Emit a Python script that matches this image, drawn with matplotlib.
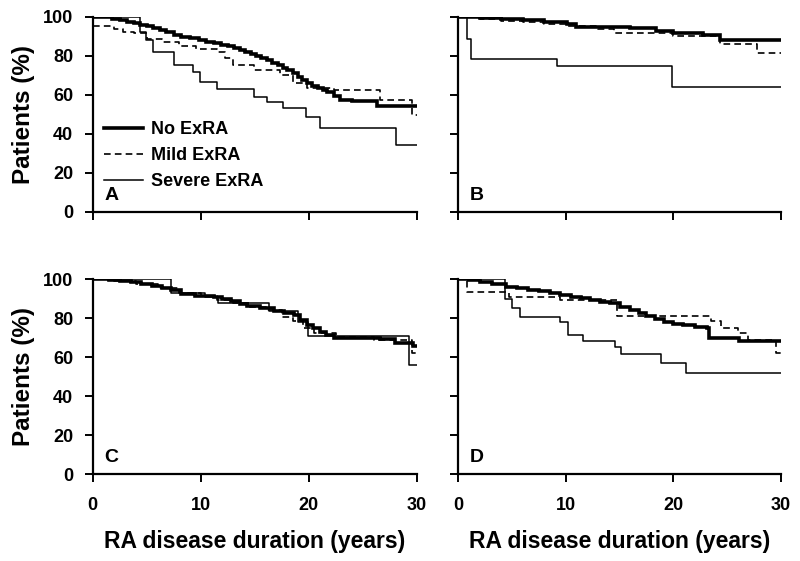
import matplotlib
matplotlib.use("Agg")
import matplotlib.pyplot as plt

plt.rcParams['font.family'] = ['Liberation Sans', 'DejaVu Sans']
plt.rcParams['font.weight'] = 'bold'

# ---- Data (years, % patients) ----
# Panel A
A_no_x   = [0, 1.0, 1.8, 2.5, 3.2, 3.8, 4.4, 5.0, 5.6, 6.2, 6.8, 7.5, 8.2, 9.0, 9.8, 10.5, 11.2, 11.9, 12.5, 13.1, 13.6, 14.1, 14.6, 15.1, 15.6, 16.1, 16.6, 17.1, 17.6, 18.0, 18.5, 19.0, 19.4, 19.8, 20.3, 20.8, 21.3, 21.7, 22.3, 22.9, 24.0, 26.3, 30]
A_no_y   = [100, 99.6, 99, 98.3, 97.5, 96.6, 95.7, 95, 94, 93, 92, 90.5, 89.7, 88.9, 88, 87.2, 86.3, 85.6, 84.8, 83.8, 82.9, 82, 81, 80, 78.9, 77.7, 76.5, 75.2, 73.8, 72.6, 71, 69.3, 67.6, 65.8, 64.5, 63.3, 62.3, 61.5, 59.5, 57.3, 56.8, 54.2, 54.2]
A_mild_x = [0, 2.0, 2.8, 3.8, 5.0, 6.4, 8.0, 9.6, 11.5, 12.2, 13.0, 14.9, 17.3, 18.5, 19.8, 22.3, 26.6, 29.5, 30]
A_mild_y = [95, 93.5, 92, 91.4, 88.8, 87, 85, 83.7, 82, 78.6, 75.2, 72.6, 70.1, 65.8, 63.3, 62.4, 57.3, 49.6, 49.6]
A_sev_x  = [0, 4.4, 4.9, 5.6, 7.5, 9.3, 9.9, 11.5, 14.9, 16.1, 17.6, 19.7, 21.0, 28.1, 30]
A_sev_y  = [100, 92.2, 88, 82, 75.2, 71.8, 66.7, 62.8, 59, 56.4, 53, 48.4, 42.8, 34.3, 34.3]

# Panel B
B_no_x   = [0, 2, 4, 6, 8, 10.1, 11, 13, 16, 18.4, 20, 22.8, 24.3, 30]
B_no_y   = [100, 99.5, 99, 98.3, 97.5, 96.5, 94.8, 94.5, 94, 92.7, 91.4, 90.5, 88.3, 88]
B_mild_x = [0, 2, 4, 6, 8, 10, 13, 14.5, 18, 20, 24.3, 27.8, 30]
B_mild_y = [100, 99, 98, 97.3, 96.5, 95, 93.5, 91.4, 91.4, 90, 86, 81.2, 81.2]
B_sev_x  = [0, 0.8, 1.2, 9.2, 19.9, 30]
B_sev_y  = [100, 88.8, 78.1, 74.8, 63.8, 63.8]

# Panel C
C_no_x   = [0, 1.5, 2.5, 3.5, 4.5, 5.5, 6.4, 7.2, 8.2, 9.5, 11.2, 12.0, 12.8, 13.6, 14.3, 15.5, 16.8, 17.7, 18.6, 19.2, 19.8, 20.4, 21.0, 21.6, 22.3, 26.6, 28.0, 29.6, 30]
C_no_y   = [100, 99.5, 99, 98.6, 97.6, 96.5, 95.5, 94.4, 92.3, 91.5, 90.6, 89.6, 88.5, 87.4, 86.3, 85, 83.6, 82.6, 81.6, 79, 76.4, 74.7, 73, 71.3, 69.6, 69.4, 67, 65.6, 65.6]
C_mild_x = [0, 2, 4, 6, 8, 10, 11.5, 13, 14.5, 16, 17.5, 18.5, 19.5, 20.5, 22.5, 26, 29.5, 30]
C_mild_y = [100, 99, 97.5, 95.5, 93, 91.5, 89, 87.5, 85.5, 84, 80.5, 78.5, 75, 72.5, 70.5, 69, 62, 62]
C_sev_x  = [0, 7.2, 10.4, 11.6, 16.3, 19.0, 19.9, 29.3, 30]
C_sev_y  = [100, 92.7, 91, 87.5, 83.8, 78.1, 70.8, 56, 56]

# Panel D
D_no_x   = [0, 1, 2, 3.2, 4.5, 5.5, 6.5, 7.5, 8.5, 9.5, 10.5, 11.4, 12.3, 13.2, 14.1, 15.0, 16.0, 16.8, 17.5, 18.3, 19.1, 20.0, 20.9, 22.0, 23.1, 23.3, 26.1, 30]
D_no_y   = [100, 99.3, 98.5, 97.3, 96, 95.2, 94.5, 93.6, 92.7, 91.8, 91, 90.1, 89.2, 88.4, 87.5, 85.8, 84.1, 82.5, 81, 79.6, 78.1, 77.2, 76.4, 75.6, 74.8, 69.6, 68.3, 68.3]
D_mild_x = [0, 0.8, 4.7, 9.5, 14.8, 23.5, 24.4, 26.0, 26.9, 29.5, 30]
D_mild_y = [100, 93.5, 91, 89.2, 81, 78.5, 74.8, 72.3, 68.6, 62, 62]
D_sev_x  = [0, 4.4, 5.0, 5.8, 9.5, 10.2, 11.6, 14.6, 15.1, 18.9, 21.2, 30]
D_sev_y  = [100, 89.6, 85, 80.7, 78.1, 71.3, 68.4, 65, 61.6, 57.1, 51.7, 51.7]

panel_letters = ["A", "B", "C", "D"]
legend_labels = ["No ExRA", "Mild ExRA", "Severe ExRA"]
x_ticks = [0, 10, 20, 30]
y_ticks = [0, 20, 40, 60, 80, 100]
x_label = "RA disease duration (years)"
y_label = "Patients (%)"

panels = [
    (A_no_x, A_no_y, A_mild_x, A_mild_y, A_sev_x, A_sev_y),
    (B_no_x, B_no_y, B_mild_x, B_mild_y, B_sev_x, B_sev_y),
    (C_no_x, C_no_y, C_mild_x, C_mild_y, C_sev_x, C_sev_y),
    (D_no_x, D_no_y, D_mild_x, D_mild_y, D_sev_x, D_sev_y),
]

fig = plt.figure(figsize=(8.0, 5.61), dpi=100)
W, H = 800.0, 561.0
boxes = [
    (92.7, 417.0, 16.7, 212.0),
    (458.0, 781.0, 16.7, 212.0),
    (92.7, 417.0, 279.0, 474.3),
    (458.0, 781.0, 279.0, 474.3),
]

for i, (box, data) in enumerate(zip(boxes, panels)):
    l, r, t, b = box
    ax = fig.add_axes([l / W, 1 - b / H, (r - l) / W, (b - t) / H])
    nx, ny, mx, my, sx, sy = data
    ax.plot(nx, ny, drawstyle='steps-post', color='black', lw=2.6, label=legend_labels[0],
            solid_joinstyle='miter')
    ax.plot(mx, my, drawstyle='steps-post', color='black', lw=1.2, ls=(0, (4, 2.5)), label=legend_labels[1])
    ax.plot(sx, sy, drawstyle='steps-post', color='black', lw=1.1, label=legend_labels[2])
    ax.set_xlim(0, 30)
    ax.set_ylim(0, 100)
    ax.set_xticks(x_ticks)
    ax.set_yticks(y_ticks)
    for s in ['top', 'right']:
        ax.spines[s].set_visible(False)
    for s in ['left', 'bottom']:
        ax.spines[s].set_linewidth(1.6)
    ax.tick_params(direction='out', length=6, width=1.4, labelsize=13, pad=8)
    ax.tick_params(axis='x', pad=10)
    row, col = divmod(i, 2)
    if col == 1:
        ax.set_yticklabels([])
    else:
        ax.set_ylabel(y_label, fontsize=17.5, fontweight='bold', labelpad=6)
    if row == 0:
        ax.set_xticklabels([])
    else:
        ax.set_xlabel(x_label, fontsize=16.5, fontweight='bold', labelpad=12)
    for lab in ax.get_xticklabels() + ax.get_yticklabels():
        lab.set_fontweight('bold')
    ax.text(0.035, 0.04, panel_letters[i], transform=ax.transAxes, fontsize=14,
            fontweight='bold', ha='left', va='bottom')
    if i == 0:
        ax.legend(loc='upper left', bbox_to_anchor=(0.0, 0.52), frameon=False,
                  handlelength=2.2, handletextpad=0.45, labelspacing=0.5,
                  borderaxespad=0.2, prop={'weight': 'bold', 'size': 13})

fig.savefig("out.png", dpi=100)
